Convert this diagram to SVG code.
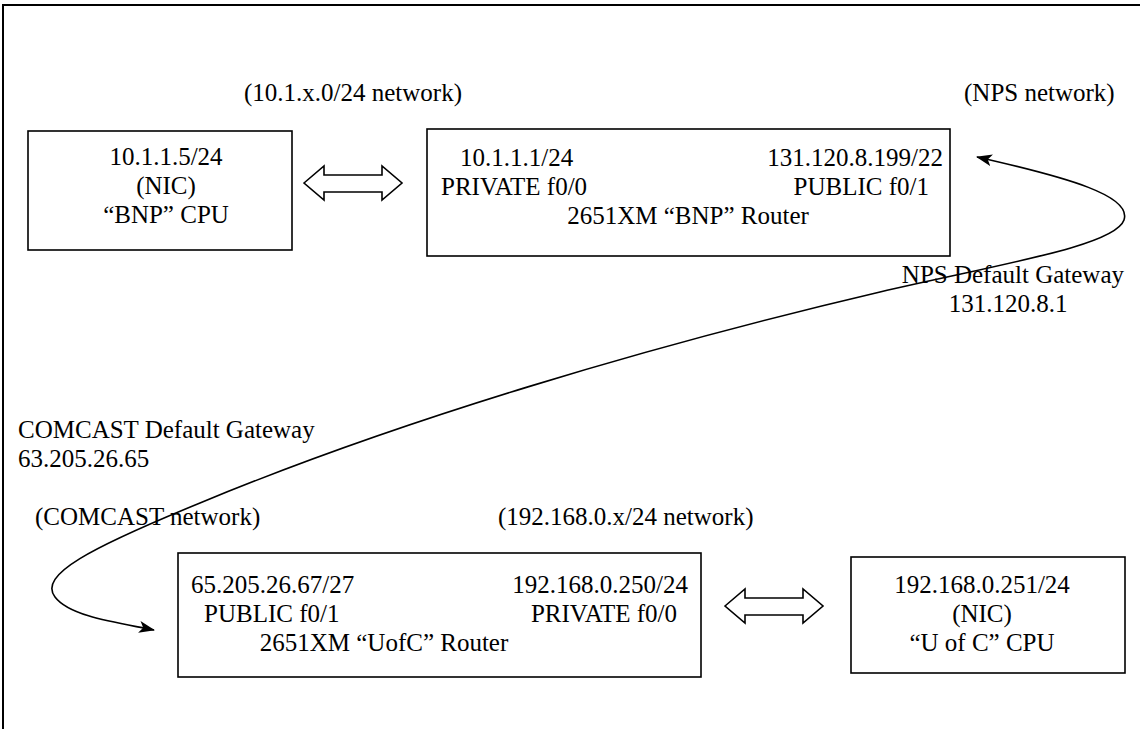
<svg xmlns="http://www.w3.org/2000/svg" width="1140" height="729" viewBox="0 0 1140 729">
<style>
text{font-family:"Liberation Serif","Times New Roman",serif;font-size:25px;fill:#000}
.box{fill:#fff;stroke:#000;stroke-width:1.6}
.dbl{fill:#fff;stroke:#000;stroke-width:1.6;stroke-linejoin:miter}
.curve{fill:none;stroke:#000;stroke-width:1.6}
.mid{text-anchor:middle}
.end{text-anchor:end}
</style>
<defs>
<marker id="ah" viewBox="0 0 16 12" refX="15" refY="6" markerWidth="16" markerHeight="12" markerUnits="userSpaceOnUse" orient="auto-start-reverse">
<path d="M0,0 L16,6 L0,12 L4,6 Z" fill="#000"/>
</marker>
</defs>
<rect width="1140" height="729" fill="#fff"/>
<path d="M3,729 V5 H1140" fill="none" stroke="#000" stroke-width="2"/>
<text x="244" y="101">(10.1.x.0/24 network)</text>
<text x="964" y="101">(NPS network)</text>
<g id="bnp-cpu">
<rect class="box" x="28" y="131" width="264" height="119"/>
<text class="mid" x="166" y="165">10.1.1.5/24</text>
<text class="mid" x="166" y="194">(NIC)</text>
<text class="mid" x="166" y="223">“BNP” CPU</text>
</g>
<g id="bnp-router">
<rect class="box" x="427" y="129" width="523" height="127"/>
<text x="460" y="166">10.1.1.1/24</text>
<text class="end" x="943" y="166">131.120.8.199/22</text>
<text x="441" y="195">PRIVATE f0/0</text>
<text class="end" x="929" y="195">PUBLIC f0/1</text>
<text class="mid" x="688" y="224">2651XM “BNP” Router</text>
</g>
<g id="uofc-router">
<rect class="box" x="178" y="553" width="523" height="124"/>
<text x="191" y="593">65.205.26.67/27</text>
<text class="end" x="688" y="593">192.168.0.250/24</text>
<text x="204" y="622">PUBLIC f0/1</text>
<text class="end" x="677" y="622">PRIVATE f0/0</text>
<text class="mid" x="384" y="651">2651XM “UofC” Router</text>
</g>
<g id="uofc-cpu">
<rect class="box" x="851" y="557" width="274" height="116"/>
<text class="mid" x="982" y="593">192.168.0.251/24</text>
<text class="mid" x="982" y="622">(NIC)</text>
<text class="mid" x="982" y="651">“U of C” CPU</text>
</g>
<g id="labels">
<text class="end" x="1124" y="283">NPS Default Gateway</text>
<text class="mid" x="1008" y="312">131.120.8.1</text>
<text x="18" y="438">COMCAST Default Gateway</text>
<text x="18" y="467">63.205.26.65</text>
<text x="35" y="525">(COMCAST network)</text>
<text x="498" y="525">(192.168.0.x/24 network)</text>
</g>
<g id="connectors">
<path class="dbl" d="M304,183 L324,166 L324,175 L382,175 L382,166 L402,183 L382,200 L382,192 L324,192 L324,200 Z"/>
<path class="dbl" d="M725,606 L745,589 L745,598 L803,598 L803,589 L823,606 L803,623 L803,615 L745,615 L745,623 Z"/>
<path class="curve" marker-start="url(#ah)" marker-end="url(#ah)" d="M977,157 C1070,178 1132,196 1124,220 C1115,246 1000,264 880,292 C650,346 400,420 200,503 C90,548 38,575 55,597 C70,617 120,623 154,630"/>
</g>
</svg>
